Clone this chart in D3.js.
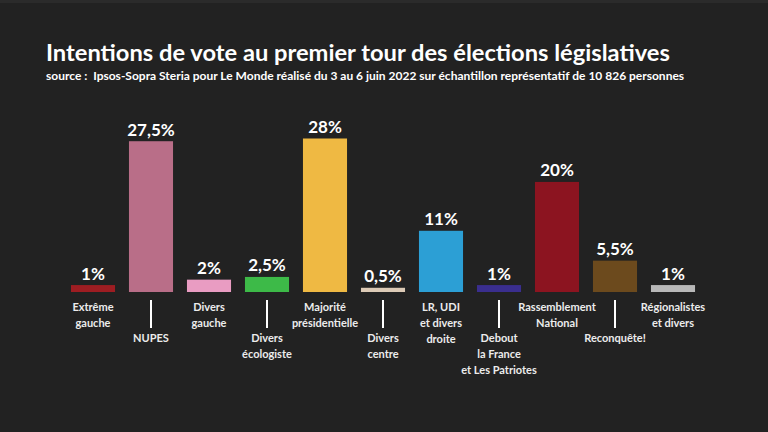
<!DOCTYPE html>
<html><head><meta charset="utf-8">
<script src="https://cdn.jsdelivr.net/npm/d3@7"></script>
<style>
html,body{margin:0;padding:0;background:#222222;}
svg{display:block;}
text{font-family:Lato, "Open Sans", sans-serif;}
</style></head>
<body>
<svg id="c" width="768" height="432"></svg>
<script>
const categories = ["Extrême gauche","NUPES","Divers gauche","Divers écologiste","Majorité présidentielle","Divers centre","LR, UDI et divers droite","Debout la France et Les Patriotes","Rassemblement National","Reconquête!","Régionalistes et divers"];
const labelLines = [["Extrême","gauche"],["NUPES"],["Divers","gauche"],["Divers","écologiste"],["Majorité","présidentielle"],["Divers","centre"],["LR, UDI","et divers","droite"],["Debout","la France","et Les Patriotes"],["Rassemblement","National"],["Reconquête!"],["Régionalistes","et divers"]];
const values = [1, 27.5, 2, 2.5, 28, 0.5, 11, 1, 20, 5.5, 1];
const valueLabels = ["1%","27,5%","2%","2,5%","28%","0,5%","11%","1%","20%","5,5%","1%"];
const colors = ["#9e1d22","#b96e88","#e99cc2","#3dba48","#efb943","#dccab6","#2c9fd5","#3a2e8e","#8c1420","#6c4a1d","#b8b8b8"];

const svg = d3.select("#c");
svg.append("rect").attr("width",768).attr("height",432).attr("fill","#222222");
svg.append("rect").attr("width",768).attr("height",3).attr("fill","#2b2b2b");

svg.append("text").attr("x",46).attr("y",61).attr("fill","#ffffff")
  .attr("font-size",23.7).attr("font-weight",700)
  .text("Intentions de vote au premier tour des élections législatives");
svg.append("text").attr("x",46).attr("y",80).attr("fill","#ffffff")
  .attr("font-size",12).attr("font-weight",700).style("white-space","pre")
  .text("source :  Ipsos-Sopra Steria pour Le Monde réalisé du 3 au 6 juin 2022 sur échantillon représentatif de 10 826 personnes");

const x = d3.scaleBand().domain(categories).range([64,702]).paddingInner(0.24).paddingOuter(0.12);
const y = d3.scaleLinear().domain([0,28]).range([292,140]);

const g = svg.append("g");
g.selectAll("rect.bar").data(categories).join("rect").attr("class","bar")
  .attr("x",d=>x(d)).attr("width",x.bandwidth())
  .attr("y",(d,i)=>y(values[i])-1.5).attr("height",(d,i)=>y(0)-y(values[i])+1.5)
  .attr("fill",(d,i)=>colors[i]);

g.selectAll("text.val").data(categories).join("text").attr("class","val")
  .attr("x",d=>x(d)+x.bandwidth()/2).attr("y",(d,i)=>y(values[i])-7)
  .attr("text-anchor","middle").attr("fill","#ffffff")
  .attr("font-size",17).attr("font-weight",700)
  .text((d,i)=>valueLabels[i]);

categories.forEach((c,i)=>{
  const cx = x(c)+x.bandwidth()/2;
  const low = i % 2 === 1;
  if (low) {
    g.append("line").attr("x1",cx).attr("x2",cx).attr("y1",300).attr("y2",328)
      .attr("stroke","#ffffff").attr("stroke-width",2);
  }
  const y0 = low ? 342 : 311;
  labelLines[i].forEach((t,j)=>{
    g.append("text").attr("x",cx).attr("y",y0+j*16).attr("text-anchor","middle")
      .attr("fill","#ececec").attr("font-size",11).attr("font-weight",700).text(t);
  });
});
</script>
</body></html>
